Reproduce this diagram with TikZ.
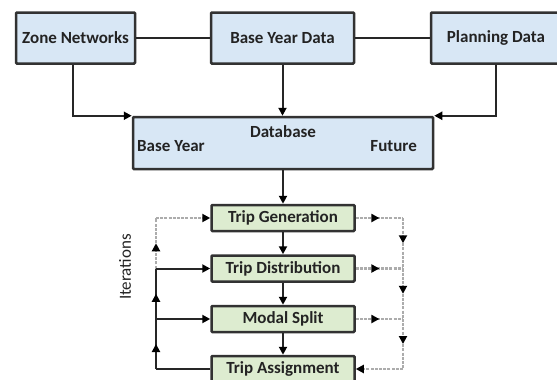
\documentclass[tikz,border=0pt]{standalone}
\usepackage{fontspec}
\setmainfont{Carlito}
\usetikzlibrary{arrows.meta,decorations.markings}
\definecolor{boxblue}{RGB}{216,231,245}
\definecolor{boxgreen}{RGB}{221,236,208}
\definecolor{edgec}{RGB}{50,50,50}
\definecolor{txt}{RGB}{35,35,35}
\begin{document}
\begin{tikzpicture}[x=1pt,y=-1pt,
  lbl/.style={font=\bfseries\fontsize{17}{19}\selectfont, text=txt, inner sep=0pt},
  topbox/.style={lbl, draw=edgec, line width=2.5pt, fill=boxblue, minimum height=51pt, rounded corners=1pt},
  tripbox/.style={lbl, draw=edgec, line width=2.5pt, fill=boxgreen, minimum width=143pt, minimum height=26pt, rounded corners=1pt},
  conn/.style={line width=2pt, draw=black!85},
  tip/.style={-{Triangle[length=8pt,width=8pt,color=black]}},
  arr/.style={conn, tip},
  dsh/.style={line width=2.2pt, draw=gray!65, dash pattern=on 3pt off 1.2pt},
  midarr/.style={postaction={decorate}, decoration={markings, mark=at position 0.5 with {\arrow{Triangle[length=8pt,width=8pt,color=black]}}}}
]
\useasboundingbox (0,0) rectangle (557,380);

% top row
\node[topbox, minimum width=119pt] (zn) at (75.5,38) {Zone Networks};
\node[topbox, minimum width=143pt] (byd) at (282.5,38) {Base Year Data};
\node[topbox, minimum width=130pt] (pd) at (496,38) {Planning Data};

% database
\node[topbox, minimum width=300pt, minimum height=52pt] (db) at (283,143) {};
\node[lbl] (dbt) at (283,132) {Database};
\node[lbl, anchor=west] (dbb) at (137,146) {Base Year};
\node[lbl, anchor=east] (dbf) at (417,146) {Future};

% trip boxes
\node[tripbox] (tg) at (283,218) {Trip Generation};
\node[tripbox] (td) at (283,268.5) {Trip Distribution};
\node[tripbox] (ms) at (283,319) {Modal Split};
\node[tripbox] (ta) at (283,369) {Trip Assignment};

\node[font=\fontsize{17}{19}\selectfont, text=txt, rotate=90, inner sep=0pt] (it) at (125,267) {Iterations};

\coordinate (zk) at (73,0);
\coordinate (lx) at (156,0);
\coordinate (rx) at (403,0);

% top connectors
\draw[conn] (zn) -- (byd);
\draw[conn] (byd) -- (pd);
\draw[arr] (zn.south -| zk) |- (db.north west);
\draw[arr] (pd.south) |- (db.north east);
\draw[arr] (byd.south) -- (byd.south |- db.north);
\draw[arr] (db.south) -- (tg.north);

% chain
\draw[arr] (tg.south) -- (td.north);
\draw[arr] (td.south) -- (ms.north);
\draw[arr] (ms.south) -- (ta.north);

% left feedback
\draw[conn] (ta.west) -- (ta.west -| lx);
\draw[conn, midarr] (ta.west -| lx) -- (ms.west -| lx);
\draw[conn, midarr] (ms.west -| lx) -- (td.west -| lx);
\draw[dsh, midarr] (td.west -| lx) -- (tg.west -| lx);
\draw[dsh, tip] (tg.west -| lx) -- (tg.west);
\draw[arr] (td.west -| lx) -- (td.west);
\draw[arr] (ms.west -| lx) -- (ms.west);

% right feedback
\draw[dsh, midarr] (tg.east) -- (tg.east -| rx);
\draw[dsh, midarr] (td.east) -- (td.east -| rx);
\draw[dsh, midarr] (ms.east) -- (ms.east -| rx);
\draw[dsh, midarr] (tg.east -| rx) -- (td.east -| rx);
\draw[dsh, midarr] (td.east -| rx) -- (ms.east -| rx);
\draw[dsh, midarr] (ms.east -| rx) -- (ta.east -| rx);
\draw[dsh, tip] (ta.east -| rx) -- (ta.east);
\end{tikzpicture}
\end{document}
